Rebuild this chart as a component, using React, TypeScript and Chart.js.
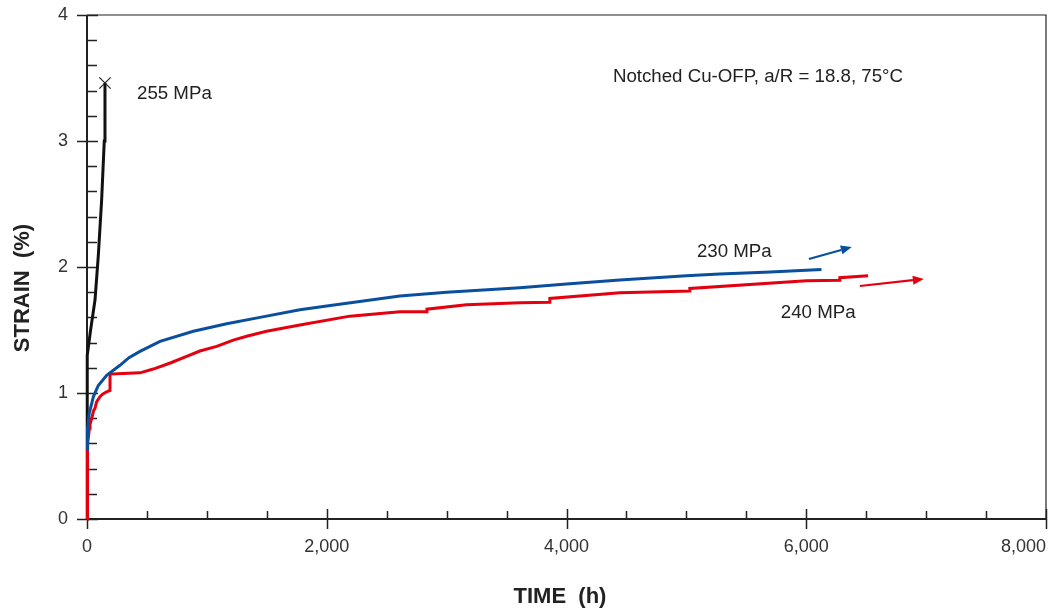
import React, { useEffect, useRef } from "react";
import { Chart, registerables } from "chart.js";

Chart.register(...registerables);

// ---- data (time in h, strain in %) ----
const black255Time = [0, 2, 30, 67, 95, 122, 144, 150];
const black255Strain = [0, 1.3, 1.5, 1.74, 2.1, 2.53, 3.0, 3.46];

const blue230Time = [0, 5, 19, 53, 94, 164, 275, 350, 442, 609, 887, 1165, 1443, 1776, 2000, 2610, 3000, 3611, 4000, 4445, 5000, 5279, 5700, 6127];
const blue230Strain = [0.55, 0.72, 0.84, 0.97, 1.06, 1.14, 1.22, 1.28, 1.33, 1.41, 1.49, 1.55, 1.6, 1.66, 1.69, 1.77, 1.8, 1.836, 1.865, 1.897, 1.93, 1.944, 1.96, 1.98];

const red240Time = [0, 0, 5, 8, 12, 20, 25, 40, 55, 67, 80, 108, 130, 164, 192, 192, 300, 442, 553, 700, 831, 942, 1082, 1220, 1332, 1498, 1776, 2193, 2610, 2836, 2836, 3166, 3611, 3861, 3861, 4445, 5029, 5029, 6002, 6280, 6280, 6516];
const red240Strain = [0, 0.31, 0.45, 0.6, 0.65, 0.72, 0.75, 0.8, 0.86, 0.88, 0.93, 0.97, 0.99, 1.01, 1.02, 1.15, 1.155, 1.16, 1.19, 1.24, 1.29, 1.333, 1.37, 1.42, 1.45, 1.49, 1.54, 1.61, 1.645, 1.645, 1.665, 1.7, 1.717, 1.72, 1.75, 1.796, 1.81, 1.83, 1.89, 1.895, 1.915, 1.93];

const xTickValues = [0, 2000, 4000, 6000, 8000];
const xTickLabels = ["0", "2,000", "4,000", "6,000", "8,000"];
const xMinorStep = 500;
const yTickValues = [0, 1, 2, 3, 4];
const yMinorStep = 0.2;

const seriesLabels = ["255 MPa", "230 MPa", "240 MPa"];
// label anchor points (time, strain) - left edge, vertical middle
const labelTimes = [417, 5088, 5788];
const labelStrains = [3.375, 2.119, 1.635];

const noteText = "Notched Cu-OFP, a/R = 18.8, 75°C";
const noteTime = 4387;
const noteStrain = 3.508;

// trend arrows: [startTime, startStrain, endTime, endStrain]
const blueArrow = [6022, 2.063, 6380, 2.159];
const redArrow = [6447, 1.849, 6981, 1.905];

const xTitle = "TIME  (h)";
const yTitle = "STRAIN  (%)";

const BLUE = "#0a4f9e";
const RED = "#e3000f";
const BLACK = "#111111";
const FONT = "'Liberation Sans', Arial, sans-serif";

const toXY = (t: number[], s: number[]) => t.map((v, i) => ({ x: v, y: s[i] }));

export default function App() {
  const ref = useRef<HTMLCanvasElement | null>(null);

  useEffect(() => {
    if (!ref.current) return;

    const drawArrow = (ctx: any, x1: number, y1: number, x2: number, y2: number, color: string) => {
      const ang = Math.atan2(y2 - y1, x2 - x1);
      const hl = 11, hw = 4.5;
      const bx = x2 - hl * Math.cos(ang);
      const by = y2 - hl * Math.sin(ang);
      ctx.save();
      ctx.strokeStyle = color;
      ctx.fillStyle = color;
      ctx.lineWidth = 2.2;
      ctx.beginPath();
      ctx.moveTo(x1, y1);
      ctx.lineTo(bx, by);
      ctx.stroke();
      ctx.beginPath();
      ctx.moveTo(x2, y2);
      ctx.lineTo(bx - hw * Math.sin(ang), by + hw * Math.cos(ang));
      ctx.lineTo(bx + hw * Math.sin(ang), by - hw * Math.cos(ang));
      ctx.closePath();
      ctx.fill();
      ctx.restore();
    };

    const framePlugin = {
      id: "frame",
      beforeDatasetsDraw(chart: any) {
        const { ctx, chartArea: a, scales } = chart;
        const xs = scales.x, ys = scales.y;
        ctx.save();
        ctx.strokeStyle = "#222";
        // top/right frame
        ctx.lineWidth = 1.2;
        ctx.beginPath();
        ctx.moveTo(a.left, a.top);
        ctx.lineTo(a.right, a.top);
        ctx.lineTo(a.right, a.bottom);
        ctx.stroke();
        // axes
        ctx.lineWidth = 2;
        ctx.beginPath();
        ctx.moveTo(a.left, a.top);
        ctx.lineTo(a.left, a.bottom);
        ctx.lineTo(a.right, a.bottom);
        ctx.stroke();
        ctx.lineWidth = 1.5;
        ctx.beginPath();
        // y minor ticks (inside)
        for (let v = 0; v <= ys.max + 1e-9; v += yMinorStep) {
          const y = Math.round(ys.getPixelForValue(v)) + 0.5;
          ctx.moveTo(a.left, y);
          ctx.lineTo(a.left + 10, y);
        }
        // y major ticks (cross)
        yTickValues.forEach((v) => {
          const y = Math.round(ys.getPixelForValue(v)) + 0.5;
          ctx.moveTo(a.left - 10, y);
          ctx.lineTo(a.left + 11, y);
        });
        // x minor ticks (inside)
        for (let v = 0; v <= xs.max + 1e-9; v += xMinorStep) {
          const x = Math.round(xs.getPixelForValue(v)) + 0.5;
          ctx.moveTo(x, a.bottom);
          ctx.lineTo(x, a.bottom - 8);
        }
        // x major ticks (cross)
        xTickValues.forEach((v) => {
          const x = Math.round(xs.getPixelForValue(v)) + 0.5;
          ctx.moveTo(x, a.bottom + 10);
          ctx.lineTo(x, a.bottom - 10);
        });
        ctx.stroke();
        ctx.restore();
      },
      afterDraw(chart: any) {
        const { ctx, scales, width } = chart;
        const xs = scales.x, ys = scales.y;
        ctx.save();
        // x tick labels
        ctx.font = `18px ${FONT}`;
        ctx.fillStyle = "#333";
        ctx.textBaseline = "middle";
        xTickValues.forEach((v, i) => {
          const x = xs.getPixelForValue(v);
          const w = ctx.measureText(xTickLabels[i]).width;
          let left = x - w / 2;
          if (left + w > width - 3) left = width - 3 - w;
          ctx.textAlign = "left";
          ctx.fillText(xTickLabels[i], left, 547);
        });
        // series labels
        ctx.font = `18.7px ${FONT}`;
        ctx.fillStyle = "#222";
        ctx.textAlign = "left";
        seriesLabels.forEach((t, i) => {
          ctx.fillText(t, xs.getPixelForValue(labelTimes[i]), ys.getPixelForValue(labelStrains[i]));
        });
        ctx.fillText(noteText, xs.getPixelForValue(noteTime), ys.getPixelForValue(noteStrain));
        // arrows
        drawArrow(ctx, xs.getPixelForValue(blueArrow[0]), ys.getPixelForValue(blueArrow[1]), xs.getPixelForValue(blueArrow[2]), ys.getPixelForValue(blueArrow[3]), BLUE);
        drawArrow(ctx, xs.getPixelForValue(redArrow[0]), ys.getPixelForValue(redArrow[1]), xs.getPixelForValue(redArrow[2]), ys.getPixelForValue(redArrow[3]), RED);
        // axis titles
        ctx.fillStyle = "#222";
        ctx.font = `bold 22px ${FONT}`;
        ctx.textAlign = "center";
        ctx.fillText(xTitle, 560, 597);
        ctx.translate(23, 288);
        ctx.rotate(-Math.PI / 2);
        ctx.fillText(yTitle, 0, 0);
        ctx.restore();
      },
    };

    const lastBlack = black255Time.length - 1;

    const chart = new Chart(ref.current, {
      type: "line",
      data: {
        datasets: [
          {
            label: "230 MPa",
            data: toXY(blue230Time, blue230Strain),
            borderColor: BLUE,
            borderWidth: 3,
            pointRadius: 0,
            tension: 0,
            clip: false,
          },
          {
            label: "240 MPa",
            data: toXY(red240Time, red240Strain),
            borderColor: RED,
            borderWidth: 3,
            pointRadius: 0,
            tension: 0,
            clip: false,
          },
          {
            label: "255 MPa",
            data: toXY(black255Time, black255Strain),
            borderColor: BLACK,
            backgroundColor: BLACK,
            borderWidth: 3,
            pointStyle: "crossRot",
            pointRadius: (c: any) => (c.dataIndex === lastBlack ? 8 : 0),
            pointBorderWidth: 1.2,
            pointBorderColor: "#222",
            tension: 0,
            clip: false,
          },
        ],
      },
      options: {
        animation: false,
        responsive: true,
        maintainAspectRatio: false,
        layout: { autoPadding: false, padding: { left: 0, right: 3, top: 15, bottom: 0 } },
        plugins: { legend: { display: false }, tooltip: { enabled: false } },
        scales: {
          x: {
            type: "linear",
            min: 0,
            max: 8000,
            ticks: { display: false, stepSize: 2000 },
            grid: { display: false, drawTicks: false },
            border: { display: false },
            afterFit: (s: any) => {
              s.height = 93;
              s.paddingLeft = 0;
              s.paddingRight = 0;
            },
          },
          y: {
            type: "linear",
            min: 0,
            max: 4,
            ticks: {
              stepSize: 1,
              padding: 19,
              color: "#333",
              font: { size: 18, family: FONT },
            },
            grid: { display: false, drawTicks: false },
            border: { display: false },
            afterFit: (s: any) => {
              s.width = 87;
              s.paddingTop = 0;
              s.paddingBottom = 0;
            },
          },
        },
      },
      plugins: [framePlugin],
    });

    return () => chart.destroy();
  }, []);

  return (
    <div style={{ position: "fixed", left: 0, top: 0, width: 1049, height: 612, background: "#fff" }}>
      <canvas ref={ref} />
    </div>
  );
}
